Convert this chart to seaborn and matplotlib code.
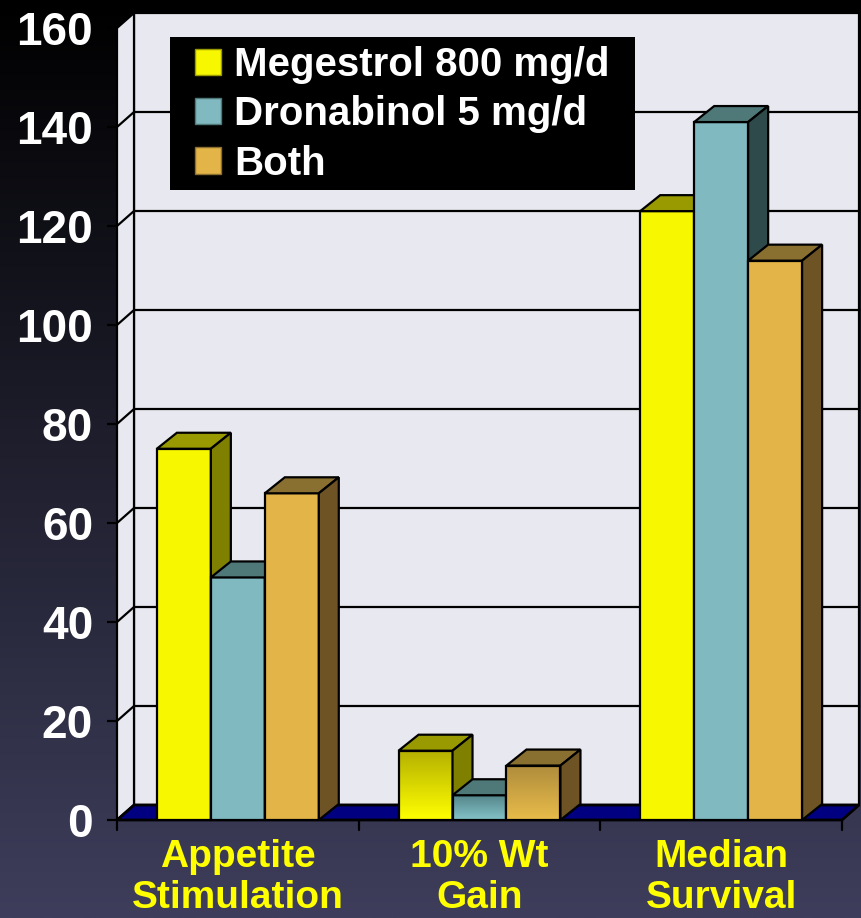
import numpy as np
import pandas as pd
import matplotlib
matplotlib.use("Agg")
import matplotlib.pyplot as plt
from matplotlib.patches import Polygon, Rectangle, Patch
from matplotlib.lines import Line2D
import seaborn as sns

# ---- data ----
categories = ["Appetite\nStimulation", "10% Wt\nGain", "Median\nSurvival"]
treatments = ["Megestrol 800 mg/d", "Dronabinol 5 mg/d", "Both"]
megestrol = [75, 14, 123]
dronabinol = [49, 5, 141]
both = [66, 11, 113]
y_ticks = [0, 20, 40, 60, 80, 100, 120, 140, 160]

# ---- styling ----
front_colors = ["#f7f700", "#80b9c0", "#e3b447"]
top_colors = ["#999900", "#4f7878", "#8a7030"]
side_colors = ["#808000", "#2f4a4a", "#6e5424"]
shade_top = ["#b4b000", "#54868a", "#b08c3c"]   # darker top of short gradient bars
shade_bottom = ["#ffff00", "#84c2c8", "#e8bc4a"]
wall_color = "#e8e8f0"
floor_color = "#000080"
FONT = ["Liberation Sans", "DejaVu Sans"]

sns.set_theme(style="white")
plt.rcParams["font.family"] = FONT

W, H = 861, 918
fig = plt.figure(figsize=(W / 100, H / 100), dpi=100)

# background gradient
bg = fig.add_axes([0, 0, 1, 1], zorder=-5)
bg.axis("off")
t = np.linspace(0, 1, 400)[:, None, None]
bottom_rgb = np.array([62, 62, 92]) / 255
grad = t * bottom_rgb[None, None, :]
bg.imshow(grad, aspect="auto", extent=[0, 1, 0, 1], origin="upper")

# front plane of the plot
ax = fig.add_axes([117 / W, 98 / H, 725 / W, 792 / H])
ax.patch.set_alpha(0)

df = pd.DataFrame({
    "category": np.repeat(categories, 3),
    "treatment": treatments * 3,
    "value": [v for trio in zip(megestrol, dronabinol, both) for v in trio],
})

sns.barplot(data=df, x="category", y="value", hue="treatment",
            order=categories, hue_order=treatments,
            palette=front_colors, saturation=1, width=0.67, gap=0,
            edgecolor="black", linewidth=1.6, legend=False, ax=ax)

ax.set_xlim(-0.5, 2.5)
ax.set_ylim(0, 160)

px_x = 725 / 3.0
px_y = 792 / 160.0
WDX, WDY = 17 / px_x, 15 / px_y      # wall depth
BDX, BDY = 20 / px_x, 16 / px_y      # bar depth
LW = 1.6

# back wall, side wall, floor
ax.add_patch(Rectangle((-0.5 + WDX, WDY), 3.0, 160, fc=wall_color, ec="black",
                       lw=LW, zorder=0.5, clip_on=False))
ax.add_patch(Polygon([(-0.5, 0), (-0.5, 160), (-0.5 + WDX, 160 + WDY), (-0.5 + WDX, WDY)],
                     closed=True, fc=wall_color, ec="black", lw=LW, zorder=0.6, clip_on=False))
for v in y_ticks[1:-1]:
    ax.add_line(Line2D([-0.5 + WDX, 2.5 + WDX], [v + WDY, v + WDY], color="black",
                       lw=LW, zorder=0.55, clip_on=False))
    ax.add_line(Line2D([-0.5, -0.5 + WDX], [v, v + WDY], color="black",
                       lw=LW, zorder=0.65, clip_on=False))
ax.add_patch(Polygon([(-0.5, 0), (2.5, 0), (2.5 + WDX, WDY), (-0.5 + WDX, WDY)],
                     closed=True, fc=floor_color, ec="black", lw=2.0, zorder=0.7, clip_on=False))

# category boundary ticks below the floor
for xb in [-0.5, 0.5, 1.5, 2.5]:
    ax.add_line(Line2D([xb, xb], [0, -10 / px_y], color="black", lw=LW, clip_on=False, zorder=5))

# 3-D faces on each bar
for k, cont in enumerate(ax.containers):
    for j, bar in enumerate(cont):
        x0, w, h = bar.get_x(), bar.get_width(), bar.get_height()
        z = 3 + k * 0.1
        bar.set_zorder(z + 0.003)
        if h < 20:
            # short bars carry a vertical shade, dark at the top
            c0 = np.array(matplotlib.colors.to_rgb(shade_top[k]))
            c1 = np.array(matplotlib.colors.to_rgb(shade_bottom[k]))
            s = np.linspace(0, 1, 64)[:, None, None]
            img = c0 + (c1 - c0) * s
            im = ax.imshow(img, extent=[x0, x0 + w, 0, h], origin="upper",
                           aspect="auto", zorder=z, clip_on=True)
            im.set_clip_path(bar)
            bar.set_facecolor("none")
        ax.add_patch(Polygon([(x0, h), (x0 + w, h), (x0 + w + BDX, h + BDY), (x0 + BDX, h + BDY)],
                             closed=True, fc=top_colors[k], ec="black", lw=LW,
                             zorder=z + 0.005, clip_on=False))
        ax.add_patch(Polygon([(x0 + w, 0), (x0 + w, h), (x0 + w + BDX, h + BDY), (x0 + w + BDX, BDY)],
                             closed=True, fc=side_colors[k], ec="black", lw=LW,
                             zorder=z + 0.005, clip_on=False))

ax.set_xlim(-0.5, 2.5)
ax.set_ylim(0, 160)

for sp in ax.spines.values():
    sp.set_visible(False)

ax.set_yticks(y_ticks)
ax.set_yticklabels([str(v) for v in y_ticks], fontsize=33, fontweight="bold",
                   color="white", family=FONT)
ax.tick_params(axis="y", direction="out", length=7.2, width=LW, color="black",
               pad=10, left=True)
ax.set_xticks(range(len(categories)))
ax.set_xticklabels(categories, fontsize=28, fontweight="bold", color="#ffff00",
                   family=FONT, linespacing=1.15)
ax.tick_params(axis="x", length=0, pad=14)
ax.set_xlabel("")
ax.set_ylabel("")
ax.grid(False)

# legend on a black panel
fig.patches.append(Rectangle((170 / W, 1 - 190 / H), 465 / W, 153 / H,
                             transform=fig.transFigure, fc="black", ec="none", zorder=10))
handles = [Patch(facecolor=front_colors[i], edgecolor=top_colors[i], lw=1.0)
           for i in range(3)]
leg = fig.legend(handles, treatments, loc="upper left",
                 bbox_to_anchor=(195 / W, 1 - 46 / H), bbox_transform=fig.transFigure,
                 frameon=False, borderpad=0, borderaxespad=0,
                 prop=dict(family=FONT, weight="bold", size=29),
                 labelcolor="white", handlelength=0.64, handleheight=0.64,
                 handletextpad=0.33, labelspacing=0.28)
leg.set_zorder(11)

fig.savefig("out.png", dpi=100)
